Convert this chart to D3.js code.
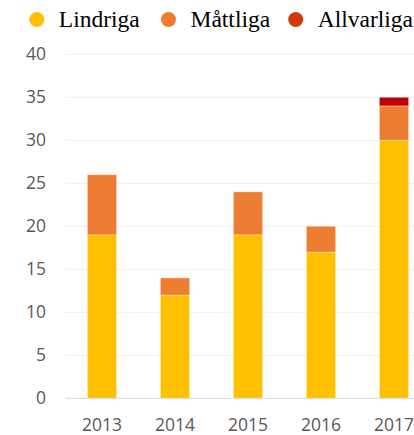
<!DOCTYPE html>
<html>
<head>
<meta charset="utf-8">
<script src="https://cdn.jsdelivr.net/npm/d3@7"></script>
<style>
  body { margin: 0; background: #fff; }
  svg { display: block; }
</style>
</head>
<body>
<div id="chart"></div>
<script>
const years = ['2013', '2014', '2015', '2016', '2017']
const lindriga = [19, 12, 19, 17, 30]
const mattliga = [7, 2, 5, 3, 4]
const allvarliga = [0, 0, 0, 0, 1]
const seriesNames = ['Lindriga', 'Måttliga', 'Allvarliga']
const yTicks = [0, 5, 10, 15, 20, 25, 30, 35, 40]

const barColors = ['#ffc000', '#ed7d31', '#c00000']
const dotColors = ['#ffc000', '#ed7d31', '#d03a05']

const width = 414
const height = 435

const svg = d3.select('#chart').append('svg')
  .attr('width', width)
  .attr('height', height)

const rows = years.map((y, i) => ({
  year: y,
  Lindriga: lindriga[i],
  'Måttliga': mattliga[i],
  Allvarliga: allvarliga[i]
}))

const x = d3.scaleBand()
  .domain(years)
  .range([65.5, 430.5])
  .paddingInner(0.6)
  .paddingOuter(0.3)

const y = d3.scaleLinear()
  .domain([0, 40])
  .range([398.3, 54.3])

// gridlines
svg.append('g')
  .selectAll('line')
  .data(yTicks.filter(t => t > 0))
  .enter().append('line')
  .attr('x1', 65.5)
  .attr('x2', width)
  .attr('y1', d => y(d))
  .attr('y2', d => y(d))
  .attr('stroke', '#eeeeee')
  .attr('stroke-width', 1)

// y labels
svg.append('g')
  .selectAll('text')
  .data(yTicks)
  .enter().append('text')
  .attr('x', 46)
  .attr('y', d => y(d))
  .attr('dy', '0.35em')
  .attr('text-anchor', 'end')
  .attr('font-family', 'Open Sans, sans-serif')
  .attr('font-size', 17.5)
  .attr('fill', '#595959')
  .text(d => d)

// stacked bars
const stacked = d3.stack().keys(seriesNames)(rows)

svg.append('g')
  .selectAll('g')
  .data(stacked)
  .enter().append('g')
  .attr('fill', (d, i) => barColors[i])
  .selectAll('rect')
  .data(d => d.filter(s => s[1] > s[0]))
  .enter().append('rect')
  .attr('x', d => x(d.data.year))
  .attr('width', x.bandwidth())
  .attr('y', d => y(d[1]))
  .attr('height', d => y(d[0]) - y(d[1]))
  .attr('stroke', '#ffffff')
  .attr('stroke-opacity', 0.35)
  .attr('stroke-width', 1)

// baseline
svg.append('line')
  .attr('x1', 65.5)
  .attr('x2', width)
  .attr('y1', y(0))
  .attr('y2', y(0))
  .attr('stroke', '#d9d9d9')
  .attr('stroke-width', 1)

// x labels
svg.append('g')
  .selectAll('text')
  .data(years)
  .enter().append('text')
  .attr('x', d => x(d) + x.bandwidth() / 2)
  .attr('y', 431)
  .attr('text-anchor', 'middle')
  .attr('font-family', 'Open Sans, sans-serif')
  .attr('font-size', 17.5)
  .attr('fill', '#595959')
  .text(d => d)

// legend
const legendX = [36.8, 168.5, 295.7]
const legend = svg.append('g')
  .selectAll('g')
  .data(seriesNames)
  .enter().append('g')
  .attr('transform', (d, i) => 'translate(' + legendX[i] + ',0)')

legend.append('circle')
  .attr('cy', 19.5)
  .attr('r', 7.5)
  .attr('fill', (d, i) => dotColors[i])

legend.append('text')
  .attr('x', 22)
  .attr('y', 26.7)
  .attr('font-family', 'Liberation Serif, Times New Roman, serif')
  .attr('font-size', 23.5)
  .attr('fill', '#000')
  .text(d => d)
</script>
</body>
</html>
